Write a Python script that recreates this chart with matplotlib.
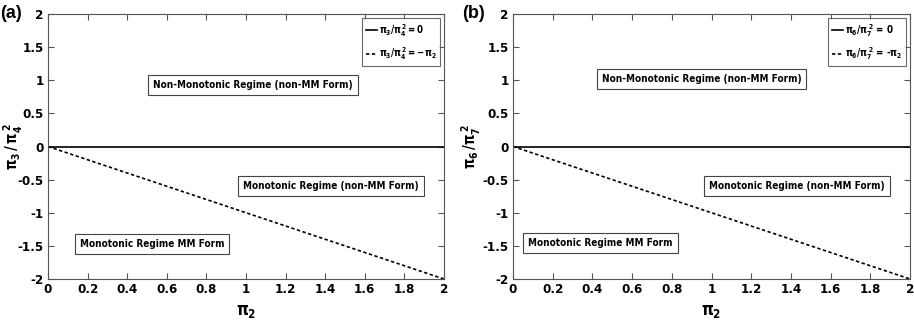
import matplotlib
matplotlib.use("Agg")
import matplotlib.pyplot as plt

FAM = 'DejaVu Sans'
plt.rcParams['font.family'] = [FAM]
plt.rcParams['font.stretch'] = 'condensed'
plt.rcParams['font.weight'] = 'bold'
plt.rcParams['mathtext.fontset'] = 'custom'
plt.rcParams['mathtext.rm'] = FAM + ':bold:stretch=condensed'
plt.rcParams['mathtext.it'] = FAM + ':bold:stretch=condensed'
plt.rcParams['mathtext.bf'] = FAM + ':bold:stretch=condensed'

pi2 = [0.0, 2.0]
line_zero = [0.0, 0.0]
line_neg = [0.0, -2.0]
xticks = [0, 0.2, 0.4, 0.6, 0.8, 1, 1.2, 1.4, 1.6, 1.8, 2]
yticks = [-2, -1.5, -1, -0.5, 0, 0.5, 1, 1.5, 2]

panels = [
    dict(tag='(a)', ylabel=r'$\pi_3\,/\,\pi_4^{\,2}$',
         leg=[r'$\pi_3/\pi_4^2 = 0$', r'$\pi_3/\pi_4^2 = \mathrm{-}\pi_2$'],
         boxes=[(1.035, 0.93, 'Non-Monotonic Regime (non-MM Form)'),
                (1.43, -0.6, 'Monotonic Regime (non-MM Form)'),
                (0.525, -1.47, 'Monotonic Regime MM Form')],
         rect=[48/914, 1-279/331, 396/914, 265/331], tagx=0, ylx=-0.058),
    dict(tag='(b)', ylabel=r'$\pi_6\,/\pi_7^{\,2}$',
         leg=[r'$\pi_6/\pi_7^{\,2}$ = 0', r'$\pi_6/\pi_7^{\,2}$ = -$\pi_2$'],
         boxes=[(0.95, 1.02, 'Non-Monotonic Regime (non-MM Form)'),
                (1.43, -0.6, 'Monotonic Regime (non-MM Form)'),
                (0.44, -1.46, 'Monotonic Regime MM Form')],
         rect=[513/914, 1-279/331, 397/914, 265/331], tagx=462, ylx=-0.075),
]

fig = plt.figure(figsize=(9.14, 3.31), dpi=100)
for p in panels:
    ax = fig.add_axes(p['rect'])
    ax.plot(pi2, line_zero, color='black', lw=1.2, label=p['leg'][0])
    ax.plot(pi2, line_neg, color='black', lw=1.2, ls=(0, (2, 1.5)), label=p['leg'][1])
    ax.set_xlim(0, 2)
    ax.set_ylim(-2, 2)
    ax.set_xticks(xticks)
    ax.set_xticklabels([f'{t:g}' for t in xticks])
    ax.set_yticks(yticks)
    ax.set_yticklabels([f'{t:g}' for t in yticks])
    ax.tick_params(direction='in', top=True, right=True, length=4, width=0.8,
                   color='#555555', labelsize=9.5, pad=3)
    for s in ax.spines.values():
        s.set_color('#555555')
        s.set_linewidth(0.8)
    ax.set_xlabel(r'$\pi_2$', fontsize=12, labelpad=4)
    ax.set_ylabel(p['ylabel'], fontsize=10.5)
    ax.yaxis.set_label_coords(p['ylx'], 0.5)
    for x, y, t in p['boxes']:
        ax.text(x, y, t, ha='center', va='center', fontsize=7.2, fontweight='bold',
                bbox=dict(boxstyle='square,pad=0.5', fc='white', ec='#444444', lw=0.8))
    leg = ax.legend(loc='upper right', fontsize=7, handlelength=1.1, handletextpad=0.2,
                    frameon=True, fancybox=False, borderpad=0.4, labelspacing=0.7,
                    borderaxespad=0.4)
    leg.get_frame().set_edgecolor('#444444')
    leg.get_frame().set_linewidth(0.8)
    fig.text(p['tagx'] / 914, 1 - 14 / 331, p['tag'], fontsize=13, fontweight='bold',
             family='Liberation Sans', ha='left', va='center')

fig.savefig('out.png', dpi=100)
